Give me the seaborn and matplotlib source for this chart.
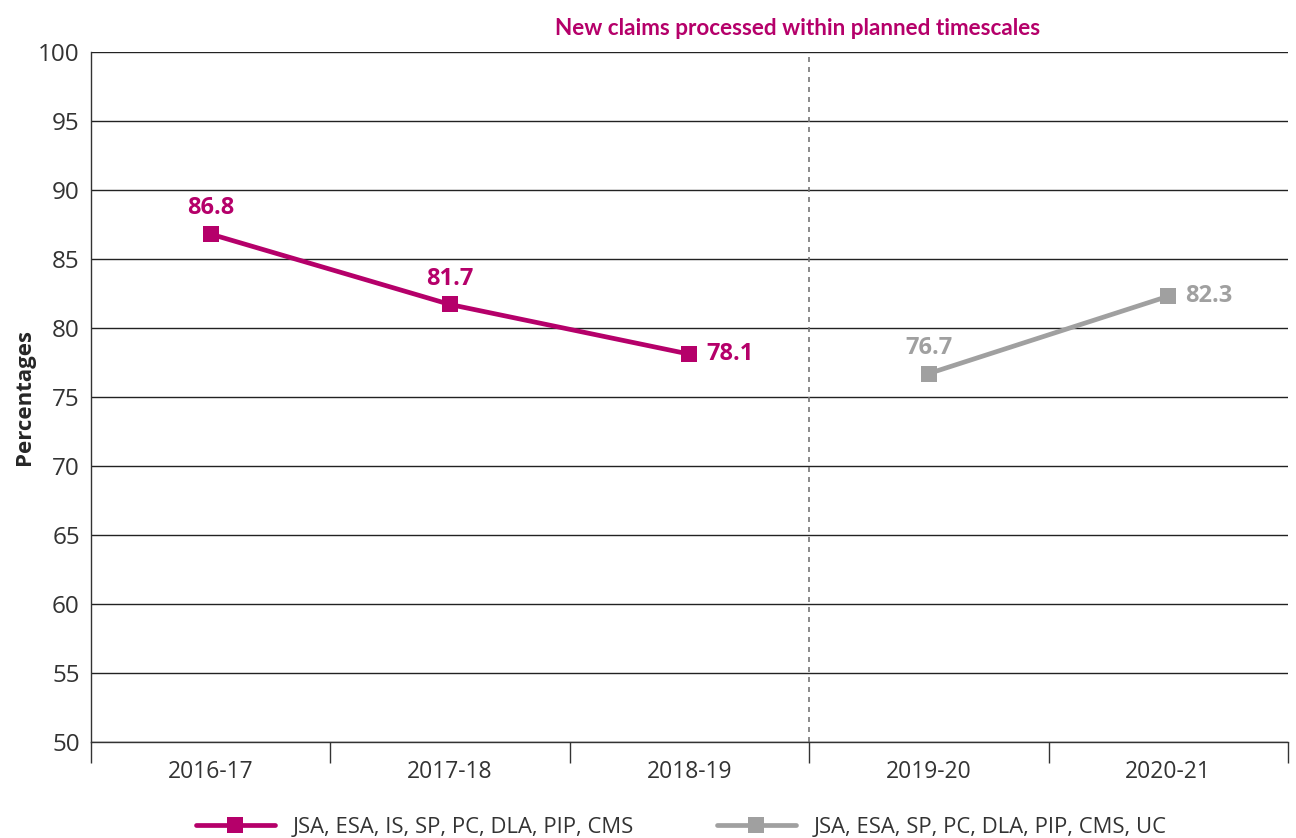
import pandas as pd
import matplotlib.pyplot as plt
import seaborn as sns

years = ["2016-17", "2017-18", "2018-19", "2019-20", "2020-21"]
old_years = ["2016-17", "2017-18", "2018-19"]
old_values = [86.8, 81.7, 78.1]
new_years = ["2019-20", "2020-21"]
new_values = [76.7, 82.3]
old_name = "JSA, ESA, IS, SP, PC, DLA, PIP, CMS"
new_name = "JSA, ESA, SP, PC, DLA, PIP, CMS, UC"

magenta = "#B5006A"
grey = "#A0A0A0"

df = pd.concat([
    pd.DataFrame({"year": old_years, "value": old_values, "series": old_name}),
    pd.DataFrame({"year": new_years, "value": new_values, "series": new_name}),
])

sns.set_style("white")
plt.rcParams['font.family'] = ['Open Sans', 'DejaVu Sans']

fig = plt.figure(figsize=(12.96, 8.38), dpi=100)
ax = fig.add_axes([0.0702, 0.1146, 0.9236, 0.8234])

sns.lineplot(
    data=df, x="year", y="value", hue="series",
    palette={old_name: magenta, new_name: grey},
    marker="s", markersize=12, markeredgewidth=0,
    linewidth=3.4, ax=ax
)

ax.set_xlim(-0.5, 4.5)
ax.set_ylim(50, 100)
ax.set_yticks(range(50, 101, 5))
ax.set_xticks(range(5))
ax.set_xticklabels(years)
ax.set_xticks([-0.5, 0.5, 1.5, 2.5, 3.5, 4.5], minor=True)
ax.tick_params(axis="x", which="major", bottom=False, length=0, labelsize=16.5, pad=13, colors="#333333")
ax.tick_params(axis="x", which="minor", bottom=True, length=15, width=1, color="#333333", direction="out")
ax.tick_params(axis="y", length=0, labelsize=17.5, pad=8, colors="#333333")
ax.grid(axis="y", color="#222222", linewidth=1)
ax.set_axisbelow(True)
for s in ["top", "right"]:
    ax.spines[s].set_visible(False)
for s in ["left", "bottom"]:
    ax.spines[s].set_color("#333333")
    ax.spines[s].set_linewidth(1)

# series break
ax.axvline(2.5, color="#777777", linestyle=(0, (3, 3)), linewidth=1.2, zorder=1)

ax.set_xlabel("")
ax.set_ylabel("Percentages", fontsize=16, fontweight="bold", labelpad=2)
ax.set_title("New claims processed within planned timescales",
             fontsize=16.2, fontweight="bold", color=magenta, pad=12, x=0.59,
             family=["Lato", "DejaVu Sans"])

# data labels
label_pos = ["above", "above", "right", "above", "right"]
all_years = old_years + new_years
all_vals = old_values + new_values
cols = [magenta] * 3 + [grey] * 2
for yr, v, c, p in zip(all_years, all_vals, cols, label_pos):
    xi = years.index(yr)
    if p == "above":
        ax.annotate(f"{v}", (xi, v), xytext=(0, 10), textcoords="offset points",
                    ha="center", va="bottom", fontsize=17, fontweight="bold", color=c)
    else:
        ax.annotate(f"{v}", (xi, v), xytext=(12, 0), textcoords="offset points",
                    ha="left", va="center", fontsize=17, fontweight="bold", color=c)

leg = ax.legend(loc="upper center", bbox_to_anchor=(0.493, -0.096), ncol=2,
                frameon=False, fontsize=15.8, handlelength=3.6, columnspacing=3.8,
                borderaxespad=0)
for t in leg.get_texts():
    t.set_color("#333333")

fig.savefig("out.png", dpi=100)
